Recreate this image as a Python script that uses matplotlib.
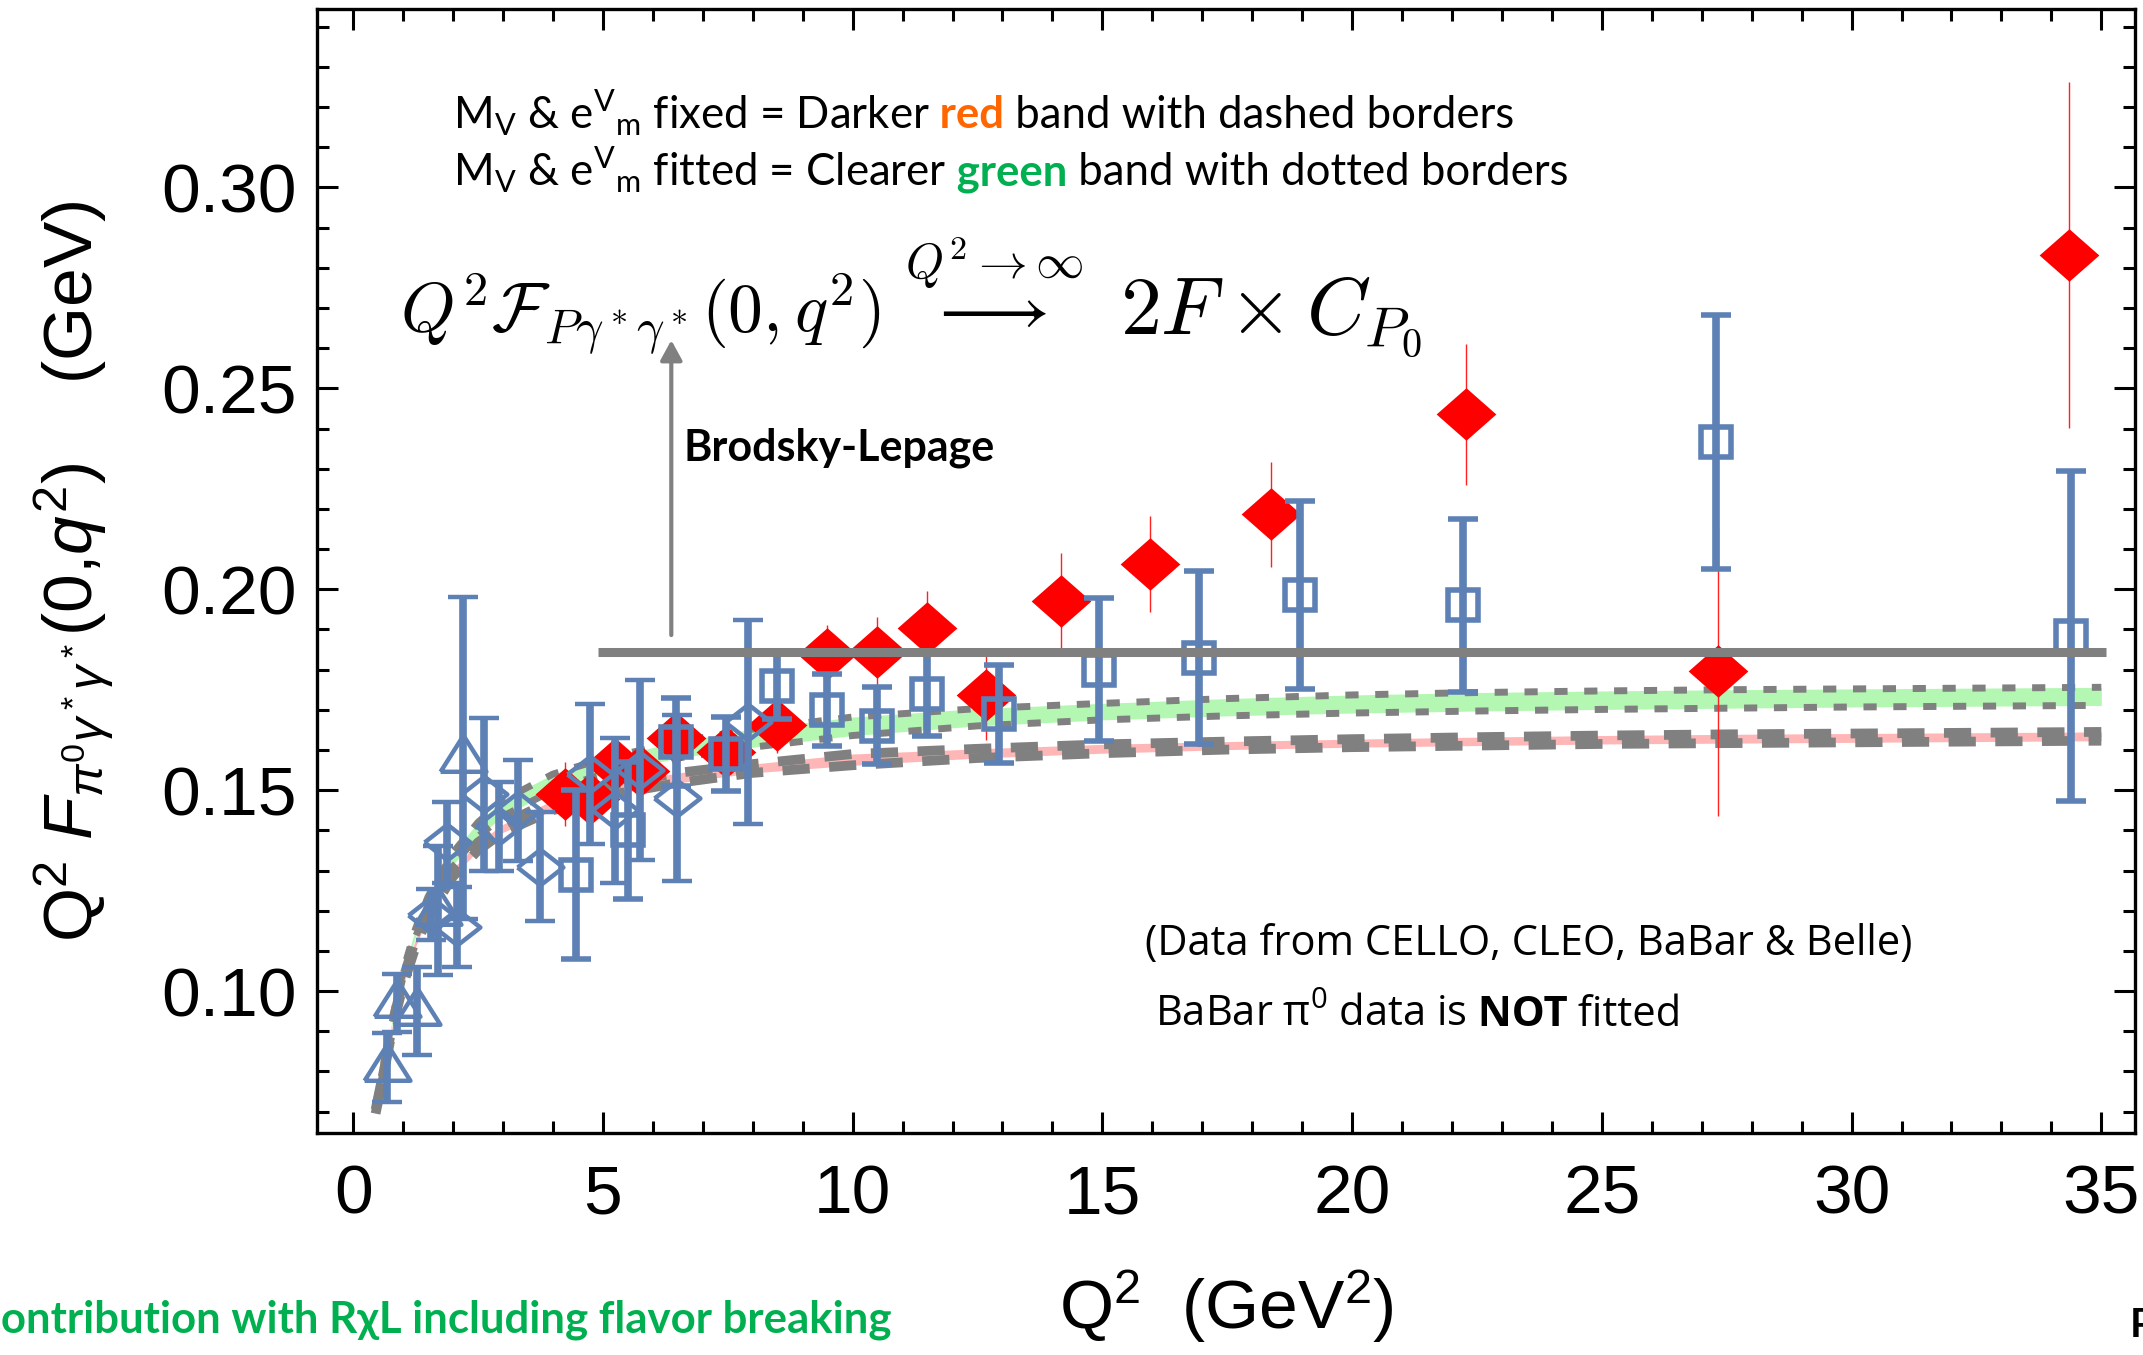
import numpy as np
import matplotlib
matplotlib.use("Agg")
import matplotlib.pyplot as plt
from matplotlib.ticker import MultipleLocator, FixedLocator, FixedFormatter

plt.rcParams['font.family'] = ['Liberation Sans', 'DejaVu Sans']
plt.rcParams['mathtext.fontset'] = 'custom'
plt.rcParams['mathtext.rm'] = 'Liberation Sans'
plt.rcParams['mathtext.it'] = 'Liberation Sans:italic'
plt.rcParams['mathtext.bf'] = 'Liberation Sans:bold'
plt.rcParams['mathtext.sf'] = 'Liberation Sans'

# ---------------- data ----------------
# BaBar pi0 (red filled diamonds)
babar_q2 = [4.24, 4.74, 5.24, 5.74, 6.47, 7.47, 8.48, 9.48, 10.48, 11.48, 12.68,
            14.17, 15.95, 18.38, 22.28, 27.33, 34.36]
babar_val = [0.1491, 0.1479, 0.1565, 0.1547, 0.1629, 0.1596, 0.1663, 0.1840, 0.1845,
             0.1904, 0.1736, 0.1971, 0.2063, 0.2187, 0.2435, 0.1796, 0.2832]
babar_err = [0.0079, 0.0061, 0.0063, 0.0056, 0.0052, 0.0059, 0.0070, 0.0070, 0.0085,
             0.0092, 0.0110, 0.0120, 0.0120, 0.0131, 0.0175, 0.0360, 0.0430]

# Belle (open squares)
belle_q2 = [4.46, 5.50, 6.47, 7.47, 8.48, 9.48, 10.48, 11.48, 12.93, 14.93, 16.93,
            18.95, 22.23, 27.29, 34.40]
belle_val = [0.129, 0.140, 0.162, 0.159, 0.176, 0.170, 0.166, 0.174, 0.169, 0.180,
             0.183, 0.1986, 0.196, 0.2367, 0.1884]
belle_err = [0.021, 0.017, 0.011, 0.0092, 0.0082, 0.0089, 0.0096, 0.0105, 0.0122,
             0.0178, 0.0216, 0.0233, 0.0216, 0.0316, 0.041]

# CLEO (open diamonds)
cleo_q2 = [1.55, 1.88, 2.08, 2.62, 2.93, 3.31, 3.75, 4.75, 5.25, 5.75, 6.48, 7.90]
cleo_val = [0.119, 0.137, 0.116, 0.149, 0.141, 0.145, 0.131, 0.154, 0.145, 0.155,
            0.148, 0.167]
cleo_err = [0.0064, 0.0100, 0.0100, 0.0190, 0.0110, 0.0126, 0.0135, 0.0175, 0.0180,
            0.0224, 0.0206, 0.0254]

# CELLO (open triangles)
cello_q2 = [0.68, 0.87, 1.27, 1.70, 2.20]
cello_val = [0.081, 0.097, 0.095, 0.120, 0.158]
cello_err = [0.0085, 0.0072, 0.011, 0.016, 0.040]

# theory curves (band borders)
curve_q2 = [0.45, 0.6, 0.8, 1.0, 1.25, 1.5, 2.0, 2.5, 3.0, 4.0, 5.0, 6.5, 8.0, 10.0,
            12.5, 15.0, 17.5, 20.0, 22.5, 25.0, 27.5, 30.0, 32.5, 35.0]
fitted_hi = [0.0715, 0.081, 0.094, 0.105, 0.1155, 0.1235, 0.1345, 0.1420, 0.1475,
             0.1540, 0.1578, 0.1620, 0.1652, 0.1682, 0.1703, 0.1716, 0.1728, 0.1737,
             0.1743, 0.1747, 0.1750, 0.1752, 0.1754, 0.1756]
fitted_lo = [0.0705, 0.080, 0.093, 0.1035, 0.1135, 0.1210, 0.1315, 0.1385, 0.1435,
             0.1500, 0.1540, 0.1580, 0.1607, 0.1636, 0.1660, 0.1675, 0.1685, 0.1692,
             0.1697, 0.1701, 0.1704, 0.1707, 0.1709, 0.1711]
fixed_hi = [0.0705, 0.0795, 0.0925, 0.1030, 0.1130, 0.1205, 0.1305, 0.1370, 0.1415,
            0.1475, 0.1510, 0.1543, 0.1565, 0.1590, 0.1603, 0.1614, 0.1621, 0.1627,
            0.1632, 0.1636, 0.1639, 0.1641, 0.1643, 0.1645]
fixed_lo = [0.0695, 0.0785, 0.0915, 0.1015, 0.1110, 0.1185, 0.1285, 0.1350, 0.1395,
            0.1450, 0.1485, 0.1518, 0.1543, 0.1562, 0.1580, 0.1592, 0.1601, 0.1607,
            0.1611, 0.1615, 0.1617, 0.1619, 0.1621, 0.1623]

# Brodsky-Lepage limit line and arrow
bl_q2 = [4.9, 35.1]
bl_val = [0.1845, 0.1845]
arrow_q2 = 6.37
arrow_from = 0.1886
arrow_to = 0.262

x_ticks = [0, 5, 10, 15, 20, 25, 30, 35]
y_ticks = [0.10, 0.15, 0.20, 0.25, 0.30]
y_ticklabels = ['0.10', '0.15', '0.20', '0.25', '0.30']

# ---------------- figure ----------------
BLUE = '#5e81b5'
GRAY = '#808080'

fig = plt.figure(figsize=(21.43, 13.55), dpi=100)
ax = fig.add_axes([0.1480, 0.16362, 0.99617 - 0.1480, 0.99299 - 0.16362])
ax.set_xlim(-0.72, 35.67)
ax.set_ylim(0.0646, 0.3443)

# bands
ax.fill_between(curve_q2, fitted_lo, fitted_hi, color='#b3f7b3', lw=0, zorder=1)
ax.fill_between(curve_q2, fixed_lo, fixed_hi, color='#ffb6b6', lw=0, zorder=1)
for arr in (fitted_hi, fitted_lo):
    ax.plot(curve_q2, arr, color=GRAY, lw=5, dashes=(1.9, 2.4),
            dash_capstyle='butt', zorder=2)
for arr in (fixed_hi, fixed_lo):
    ax.plot(curve_q2, arr, color=GRAY, lw=7, dashes=(2.8, 2.0),
            dash_capstyle='butt', zorder=2)

# markers
red_diamond = [(-1, 0), (0, 0.88), (1, 0), (0, -0.88), (-1, 0)]
open_diamond = [(-1, 0), (0, 0.78), (1, 0), (0, -0.78), (-1, 0)]
triangle = [(-1, -0.58), (1, -0.58), (0, 1.0), (-1, -0.58)]

ax.errorbar(babar_q2, babar_val, yerr=babar_err, linestyle='none', marker=red_diamond,
            ms=43, mfc='#ff0000', mec='#ff0000', mew=0, ecolor='#ff2020',
            elinewidth=1.0, capsize=6.5, capthick=1.0, zorder=3)

common = dict(linestyle='none', mfc='none', mec=BLUE, ecolor=BLUE,
              elinewidth=5.5, capsize=11, capthick=6, zorder=4)
ax.errorbar(cello_q2, cello_val, yerr=cello_err, marker=triangle, ms=33, mew=3.2, **common)
ax.errorbar(cleo_q2, cleo_val, yerr=cleo_err, marker=open_diamond, ms=33, mew=3.2, **common)
ax.errorbar(belle_q2, belle_val, yerr=belle_err, marker='s', ms=21, mew=4, **common)

# Brodsky-Lepage line and arrow
ax.plot(bl_q2, bl_val, color=GRAY, lw=6.5, solid_capstyle='butt', zorder=5)
ax.annotate('', xy=(arrow_q2, arrow_to), xytext=(arrow_q2, arrow_from),
            arrowprops=dict(arrowstyle='-|>,head_length=0.55,head_width=0.3',
                            color=GRAY, lw=3, mutation_scale=22, shrinkA=0, shrinkB=0),
            zorder=5)

# axes styling
for s in ax.spines.values():
    s.set_linewidth(2.4)
ax.xaxis.set_major_locator(FixedLocator(x_ticks))
ax.xaxis.set_minor_locator(MultipleLocator(1))
ax.yaxis.set_major_locator(FixedLocator(y_ticks))
ax.yaxis.set_major_formatter(FixedFormatter(y_ticklabels))
ax.yaxis.set_minor_locator(MultipleLocator(0.01))
ax.tick_params(which='both', direction='in', top=True, right=True, width=2.2)
ax.tick_params(which='major', length=15, labelsize=50)
ax.tick_params(axis='x', which='major', pad=22)
ax.tick_params(axis='y', which='major', pad=15)
ax.tick_params(which='minor', length=8.5)

ax.set_xlabel(r'$\mathrm{Q}^2$  (GeV$^2$)', fontsize=50)
ax.set_ylabel(r'$\mathrm{Q}^2\ F_{\pi^0\gamma^*\gamma^*}(0{,}q^2)$    (GeV)', fontsize=50)
ax.xaxis.set_label_coords(0.5, -0.12)
ax.yaxis.set_label_coords(-0.1107, 0.5)

# ---------------- texts ----------------
renderer = fig.canvas.get_renderer()


def draw_segments(x, y, segments, base):
    off = 0.0
    for s, kw in segments:
        props = dict(base)
        props.update(kw)
        t = ax.annotate(s, xy=(x, y), xycoords='data', xytext=(off, 0),
                        textcoords='offset points', ha='left', va='baseline',
                        annotation_clip=False, zorder=6, **props)
        w = t.get_window_extent(renderer).width
        off += w * 72.0 / fig.dpi


lato = dict(family=['Lato', 'DejaVu Sans'], fontsize=31.5, color='black')
draw_segments(1.99, 0.3147, [
    (r'M$_\mathregular{V}$ & e$^\mathregular{V}$$_\mathregular{m}$ fixed = Darker', {}),
    (' red', dict(color='#ff6600', fontweight='bold')),
    (' band with dashed borders', {})], lato)
draw_segments(1.99, 0.3005, [
    (r'M$_\mathregular{V}$ & e$^\mathregular{V}$$_\mathregular{m}$ fitted = Clearer', {}),
    (' green', dict(color='#00b050', fontweight='bold')),
    (' band with dotted borders', {})], lato)

ax.text(0.94, 0.2637,
        r'$Q^2\mathcal{F}_{P\gamma^*\gamma^*}(0,q^2)\ \overset{Q^2\to\infty}{\longrightarrow}$',
        fontsize=50, math_fontfamily='cm', ha='left', va='baseline', zorder=6)
ax.text(15.35, 0.2637, r'$2F\times C_{P_0}$',
        fontsize=59, math_fontfamily='cm', ha='left', va='baseline', zorder=6)

ax.text(6.61, 0.2320, 'Brodsky-Lepage', family=['Lato', 'DejaVu Sans'], fontweight='bold',
        fontsize=31, ha='left', va='baseline', zorder=6)

ax.text(15.86, 0.1089, '(Data from CELLO, CLEO, BaBar & Belle)',
        family=['Open Sans', 'DejaVu Sans'], fontsize=30, ha='left', va='baseline', zorder=6)
osans = dict(family=['Open Sans', 'DejaVu Sans'], fontsize=30, color='black')
draw_segments(16.05, 0.0913, [
    (r'BaBar π$^\mathregular{0}$ data is', {}),
    (' NOT', dict(fontweight='bold')),
    (' fitted', {})], osans)

fig.text(891 / 2143, 1 - 1333 / 1355, 'Contribution with RχL including flavor breaking',
         family=['Lato', 'DejaVu Sans'], fontweight='bold', fontsize=31.5, color='#00b050',
         ha='right', va='baseline')
fig.text(2130 / 2143, 1 - 1337 / 1355, 'P', family=['Lato', 'DejaVu Sans'],
         fontweight='bold', fontsize=29, color='black', ha='left', va='baseline')

fig.savefig('out.png', dpi=100)
